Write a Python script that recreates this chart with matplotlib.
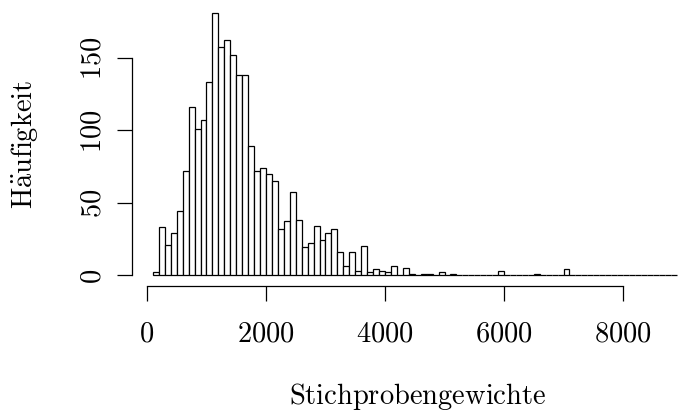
import numpy as np
import matplotlib
matplotlib.use('Agg')
import matplotlib.pyplot as plt

plt.rcParams['mathtext.fontset'] = 'cm'

# Histogram data: bin breaks (width 100) and counts
bin_width = 100
bin_start = 100
counts = [2, 33, 21, 29, 44, 72, 116, 101, 107, 133,
          181, 157, 162, 152, 138, 138, 89, 72, 74, 70,
          65, 32, 37, 57, 38, 19, 22, 34, 24, 29,
          32, 16, 6, 16, 3, 20, 2, 4, 3, 2,
          6, 0, 5, 1, 0, 1, 1, 0, 2, 0,
          1, 0, 0, 0, 0, 0, 0, 0, 3, 0,
          0, 0, 0, 0, 1, 0, 0, 0, 0, 4,
          0, 0, 0, 0, 0, 0, 0, 0, 0, 0,
          0, 0, 0, 0, 0, 0, 0, 0]
breaks = bin_start + bin_width * np.arange(len(counts) + 1)

xticks = [0, 2000, 4000, 6000, 8000]
yticks = [0, 50, 100, 150]
xlabel = r'$\mathrm{Stichprobengewichte}$'
ylabel = r'$\mathrm{H\ddot{a}ufigkeit}$'

fs = 20.5

fig = plt.figure(figsize=(6.78, 4.14), dpi=100)
# plot region placed like R's default (4% padding around the data range)
ax = fig.add_axes([132 / 678, (414 - 286.5) / 414, 565.5 / 678, 283.3 / 414])

ax.bar(breaks[:-1], counts, width=bin_width, align='edge',
       facecolor='white', edgecolor='black', linewidth=0.9)

xr = breaks[-1] - breaks[0]
ax.set_xlim(breaks[0] - 0.04 * xr, breaks[-1] + 0.04 * xr)
ymax = max(counts)
ax.set_ylim(-0.04 * ymax, ymax * 1.04)

for side in ['top', 'right']:
    ax.spines[side].set_visible(False)
ax.spines['left'].set_bounds(yticks[0], yticks[-1])
ax.spines['bottom'].set_bounds(xticks[0], xticks[-1])
for side in ['left', 'bottom']:
    ax.spines[side].set_linewidth(0.9)

ax.set_xticks(xticks)
ax.set_xticklabels([f'${v}$' for v in xticks])
ax.set_yticks(yticks)
ax.set_yticklabels([f'${v}$' for v in yticks], rotation=90, va='center')
ax.tick_params(axis='both', direction='out', length=10.5, width=0.9,
               labelsize=fs)
ax.tick_params(axis='x', pad=13)
ax.tick_params(axis='y', pad=8)

ax.set_xlabel(xlabel, fontsize=fs)
ax.xaxis.label.set_va('center')
ax.xaxis.set_label_coords(0.505, -0.39)
ax.set_ylabel(ylabel, fontsize=fs)
ax.yaxis.label.set_va('center')
ax.yaxis.set_label_coords(-0.19, 0.5)

fig.savefig('out.png', dpi=100)
